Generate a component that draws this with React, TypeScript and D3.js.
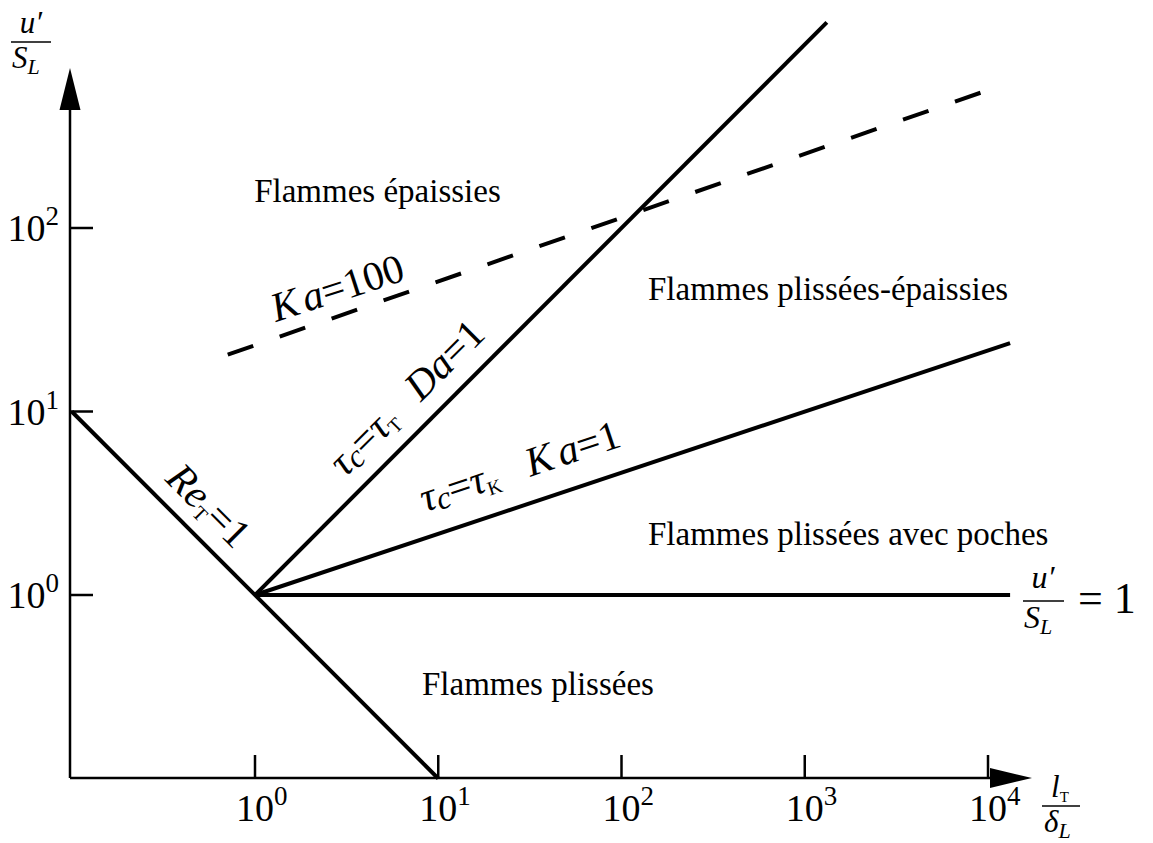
import * as d3 from 'd3'

// decades shown on the axes
const xTicks = [1, 10, 100, 1000, 10000]
const yTicks = [1, 10, 100]

// boundaries of the regime diagram, points are [l_T/δ_L, u'/S_L]
const reLine = [[0.1, 10], [10, 0.1]]
const daLine = [[1, 1], [1320, 1320]]
const kaLine = [[1, 1], [13200, 23.6]]
const unityLine = [[1, 1], [13200, 1]]
const ka100Line = [[0.71, 20.4], [9300, 550]]

// regime names, anchored in data coordinates
const regionNames = ['Flammes épaissies', 'Flammes plissées-épaissies', 'Flammes plissées avec poches', 'Flammes plissées']
const regionX = [0.99, 139.5, 139.5, 8.15]
const regionY = [139, 40.5, 1.87, 0.285]

const W = 1153
const H = 843
const serif = '"Liberation Serif", "Times New Roman", serif'

export default function App() {
  const x = d3.scaleLog().domain([1, 1e4]).range([255, 988])
  const y = d3.scaleLog().domain([1, 100]).range([595, 228])
  const line = d3.line<number[]>().x((d) => x(d[0])).y((d) => y(d[1]))

  const x0 = 70
  const y0 = 778

  const lab = (px: number, py: number, angle: number) =>
    `translate(${x(px)},${y(py)}) rotate(${angle})`

  return (
    <svg
      width={W}
      height={H}
      style={{ position: 'absolute', left: 0, top: 0, background: '#fff' }}
      fontFamily={serif}
    >
      {/* axes */}
      <line x1={x0} y1={y0} x2={x0} y2={105} stroke="#000" strokeWidth={2.5} />
      <polygon points={`${x0},68 ${x0 - 10.5},110 ${x0 + 10.5},110`} fill="#000" />
      <line x1={x0} y1={y0} x2={995} y2={y0} stroke="#000" strokeWidth={2.5} />
      <polygon points={`1032,${y0} 990,${y0 - 10} 990,${y0 + 10}`} fill="#000" />

      {yTicks.map((t) => (
        <g key={'y' + t}>
          <line x1={x0} x2={x0 + 23} y1={y(t)} y2={y(t)} stroke="#000" strokeWidth={2.5} />
          <text x={59} y={y(t) + 13} textAnchor="end" fontSize={38}>
            10
            <tspan dy={-16} fontSize={27}>
              {Math.round(Math.log10(t))}
            </tspan>
          </text>
        </g>
      ))}
      {xTicks.map((t) => (
        <g key={'x' + t}>
          <line x1={x(t)} x2={x(t)} y1={y0} y2={y0 - 23} stroke="#000" strokeWidth={2.5} />
          <text x={x(t) - 19} y={821} fontSize={38}>
            10
            <tspan dy={-16} fontSize={27}>
              {Math.round(Math.log10(t))}
            </tspan>
          </text>
        </g>
      ))}

      {/* axis titles */}
      <g fontSize={31} fontStyle="italic">
        <text x={31} y={33} textAnchor="middle">u′</text>
        <line x1={11} x2={51} y1={42} y2={42} stroke="#000" strokeWidth={1.6} />
        <text x={12} y={68}>
          S<tspan fontSize={22} dy={6}>L</tspan>
        </text>

        <text x={1060} y={797} textAnchor="middle">
          l<tspan fontSize={15} fontStyle="normal" dy={5}>T</tspan>
        </text>
        <line x1={1042} x2={1080} y1={806} y2={806} stroke="#000" strokeWidth={1.6} />
        <text x={1044} y={832}>
          δ<tspan fontSize={22} dy={6}>L</tspan>
        </text>
      </g>

      {/* boundaries */}
      <g fill="none" stroke="#000" strokeWidth={4}>
        <path d={line(reLine) ?? ''} />
        <path d={line(daLine) ?? ''} />
        <path d={line(kaLine) ?? ''} />
        <path d={line(unityLine) ?? ''} />
        <path d={line(ka100Line) ?? ''} strokeDasharray="27 28" />
      </g>

      {/* u'/S_L = 1 label */}
      <g fontSize={32}>
        <text x={1043} y={588} textAnchor="middle" fontStyle="italic">u′</text>
        <line x1={1023} x2={1064} y1={601} y2={601} stroke="#000" strokeWidth={1.6} />
        <text x={1024} y={628} fontStyle="italic">
          S<tspan fontSize={22} dy={6}>L</tspan>
        </text>
        <text x={1078} y={613} fontSize={44}>= 1</text>
      </g>

      {/* line labels */}
      <g fontSize={41}>
        <text transform={lab(1.3, 30.7, -18)}>
          <tspan fontStyle="italic">K</tspan>
          <tspan fontStyle="italic" dx={5}>a</tspan>=100
        </text>
        <text transform={lab(3.1, 4.34, -45)}>
          <tspan fontStyle="italic">τ</tspan>
          <tspan fontStyle="italic" fontSize={32} dy={3}>c</tspan>
          <tspan dy={-3}>=</tspan>
          <tspan fontStyle="italic">τ</tspan>
          <tspan fontSize={20} dy={5}>T</tspan>
          <tspan fontStyle="italic" dx={28} dy={-5}>D</tspan>
          <tspan fontStyle="italic">a</tspan>=1
        </text>
        <text transform={lab(8.47, 2.83, -18.5)}>
          <tspan fontStyle="italic">τ</tspan>
          <tspan fontStyle="italic" fontSize={32} dy={3}>c</tspan>
          <tspan dy={-3}>=</tspan>
          <tspan fontStyle="italic">τ</tspan>
          <tspan fontSize={20} dy={5}>K</tspan>
          <tspan fontStyle="italic" dx={30} dy={-5}>K</tspan>
          <tspan fontStyle="italic" dx={6}>a</tspan>=1
        </text>
        <text transform={lab(0.319, 4.23, 45)}>
          <tspan fontStyle="italic">Re</tspan>
          <tspan fontSize={20} dy={5}>T</tspan>
          <tspan dy={-5}>=1</tspan>
        </text>
      </g>

      {/* regime names */}
      {regionNames.map((name, i) => (
        <text key={name} x={x(regionX[i])} y={y(regionY[i])} fontSize={33}>
          {name}
        </text>
      ))}
    </svg>
  )
}
